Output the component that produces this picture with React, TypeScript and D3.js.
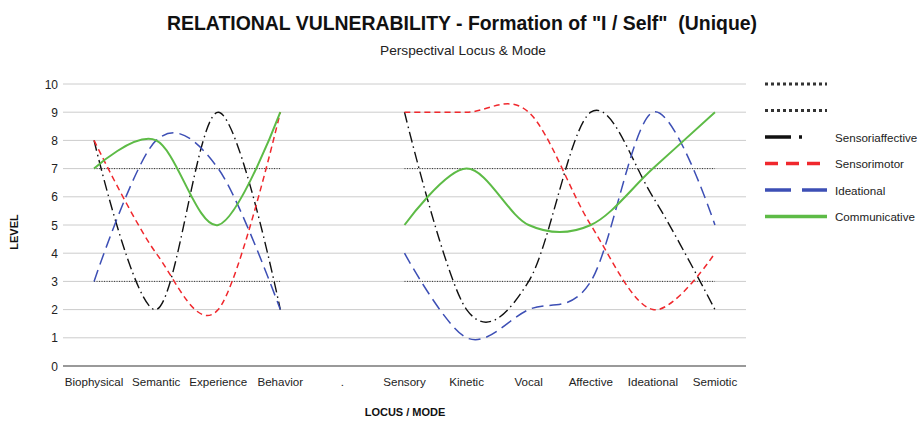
import React from "react";
import * as d3 from "d3";

const categories = ["Biophysical", "Semantic", "Experience", "Behavior", ".", "Sensory", "Kinetic", "Vocal", "Affective", "Ideational", "Semiotic"];
const refUpper: (number | null)[] = [7, 7, 7, 7, null, 7, 7, 7, 7, 7, 7];
const refLower: (number | null)[] = [3, 3, 3, 3, null, 3, 3, 3, 3, 3, 3];
const sensoriaffective: (number | null)[] = [8, 2, 9, 2, null, 9, 2, 3, 9, 6, 2];
const sensorimotor: (number | null)[] = [8, 4, 2, 9, null, 9, 9, 9, 5, 2, 4];
const ideational: (number | null)[] = [3, 8, 7, 2, null, 4, 1, 2, 3, 9, 5];
const communicative: (number | null)[] = [7, 8, 5, 9, null, 5, 7, 5, 5, 7, 9];
const yTicks = [0, 1, 2, 3, 4, 5, 6, 7, 8, 9, 10];

const W = 919, H = 423;
const FONT = "'Liberation Sans', Arial, sans-serif";

type S = { name: string; values: (number | null)[]; color: string; dash: string; width: number; legendDash: string; smooth: boolean };
const series: S[] = [
  { name: "", values: refUpper, color: "#333", dash: "1,1.5", width: 1, legendDash: "3,3", smooth: false },
  { name: "", values: refLower, color: "#333", dash: "1,1.5", width: 1, legendDash: "3,3", smooth: false },
  { name: "Sensoriaffective", values: sensoriaffective, color: "#111", dash: "11,4,1.5,4", width: 1.4, legendDash: "dashdot", smooth: true },
  { name: "Sensorimotor", values: sensorimotor, color: "#f0282d", dash: "6,4", width: 1.5, legendDash: "13,8", smooth: true },
  { name: "Ideational", values: ideational, color: "#3d4fb5", dash: "12,6", width: 1.5, legendDash: "26,11", smooth: true },
  { name: "Communicative", values: communicative, color: "#5dbb46", dash: "", width: 2, legendDash: "", smooth: true },
];

export default function App() {
  const x = d3.scalePoint<string>().domain(categories).range([63, 746]).padding(0.5);
  const y = d3.scaleLinear().domain([0, 10]).range([366, 84]);

  const mkLine = (smooth: boolean) =>
    d3.line<number | null>()
      .defined((d) => d !== null)
      .x((_, i) => x(categories[i]) as number)
      .y((d) => y(d as number))
      .curve(smooth ? d3.curveCardinal.tension(0) : d3.curveLinear);

  const legendY0 = 84, legendStep = 26.5;

  return (
    <svg width={W} height={H} style={{ position: "absolute", left: 0, top: 0, background: "#fff" }} fontFamily={FONT}>
      <rect width={W} height={H} fill="#fff" />
      <text x={462} y={30} textAnchor="middle" fontSize={21} fontWeight="bold" fill="#111" textLength={590} lengthAdjust="spacingAndGlyphs" style={{ whiteSpace: "pre" }}>
        {'RELATIONAL VULNERABILITY - Formation of "I / Self"  (Unique)'}
      </text>
      <text x={463} y={55} textAnchor="middle" fontSize={13} fill="#222" textLength={166} lengthAdjust="spacingAndGlyphs">
        Perspectival Locus &amp; Mode
      </text>

      {yTicks.map((t) => (
        <g key={t}>
          <line x1={63} x2={746} y1={y(t)} y2={y(t)} stroke={t === 0 ? "#777" : "#ccc"} strokeWidth={t === 0 ? 1.6 : 1} />
          <text x={58} y={y(t) + 4.5} textAnchor="end" fontSize={12} fill="#222">{t}</text>
        </g>
      ))}

      {categories.map((c) => (
        <text key={c} x={x(c)} y={386} textAnchor="middle" fontSize={11.6} fill="#222">
          {c}
        </text>
      ))}

      <text x={405} y={416} textAnchor="middle" fontSize={11} fontWeight="bold" fill="#111">LOCUS / MODE</text>
      <text transform={`translate(18,232) rotate(-90)`} textAnchor="middle" fontSize={11} fontWeight="bold" fill="#111">LEVEL</text>

      {series.map((s, i) => (
        <path key={i} d={mkLine(s.smooth)(s.values) || ""} fill="none" stroke={s.color} strokeWidth={s.width} strokeDasharray={s.dash || undefined} />
      ))}

      {series.map((s, i) => {
        const ly = legendY0 + i * legendStep;
        return (
          <g key={"l" + i}>
            {s.legendDash === "dashdot" ? (
              <>
                <line x1={765} x2={791} y1={ly} y2={ly} stroke={s.color} strokeWidth={3.5} />
                <line x1={799} x2={802} y1={ly} y2={ly} stroke={s.color} strokeWidth={3.5} />
              </>
            ) : (
              <line x1={765} x2={827} y1={ly} y2={ly} stroke={s.color} strokeWidth={i < 2 ? 3 : 3.5} strokeDasharray={s.legendDash || undefined} />
            )}
            {s.name && (
              <text x={835} y={ly + 4.5} fontSize={11.6} fill="#222">{s.name}</text>
            )}
          </g>
        );
      })}
    </svg>
  );
}
